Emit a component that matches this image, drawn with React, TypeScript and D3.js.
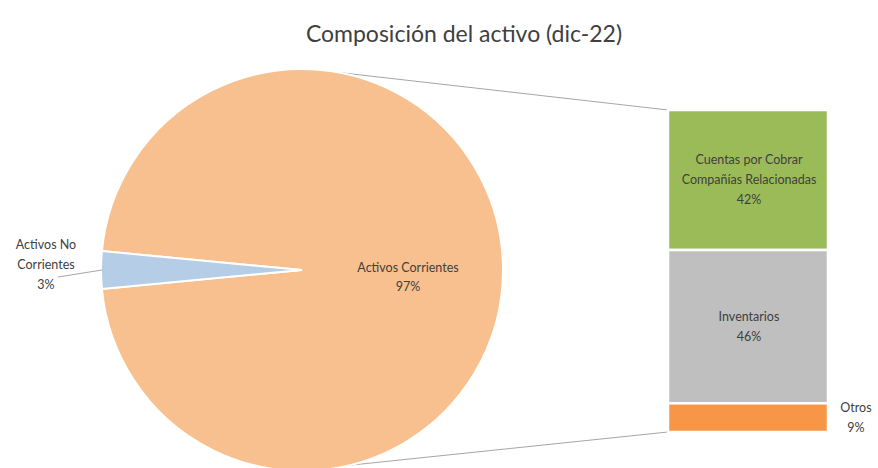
import { useEffect, useRef } from 'react';
import * as d3 from 'd3';

const W = 878, H = 468;
const TITLE = 'Composición del activo (dic-22)';
const PIE_LABELS = [['Activos Corrientes'], ['Activos No', 'Corrientes']];
const PIE_VALUES = [97, 3];
const PIE_COLORS = ['#f8c08e', '#b6cde8'];
const BAR_LABELS = [['Cuentas por Cobrar', 'Compañías Relacionadas'], ['Inventarios'], ['Otros']];
const BAR_VALUES = [42, 46, 8.6];
const BAR_PCT = ['42%', '46%', '9%'];
const BAR_COLORS = ['#9bbb59', '#bfbfbf', '#f79646'];

export default function App() {
  const ref = useRef<SVGSVGElement>(null);
  useEffect(() => {
    const svg = d3.select(ref.current); svg.selectAll('*').remove();
    const font = "Lato, 'Open Sans', sans-serif";
    svg.append('rect').attr('width', W).attr('height', H).attr('fill', '#fff');
    svg.append('text').attr('x', 464).attr('y', 42).attr('text-anchor', 'middle')
      .attr('font-family', font).attr('font-size', 23).attr('fill', '#404040').text(TITLE);

    const cx = 302, cy = 270, r = 201;
    const s = 1.5 * Math.PI - 2 * Math.PI * (PIE_VALUES[0] + PIE_VALUES[1] / 2) / d3.sum(PIE_VALUES);
    const pie = d3.pie<number>().sort(null).startAngle(s).endAngle(s + 2 * Math.PI);
    const arc = d3.arc<d3.PieArcDatum<number>>().innerRadius(0).outerRadius(r);
    const arcs = pie(PIE_VALUES);

    // connector lines from pie to bar
    const bx0 = 668, bx1 = 828, by0 = 110, by1 = 432;
    const pt = (a: number) => [cx + r * Math.sin(a), cy - r * Math.cos(a)];
    const [tx, ty] = pt(0.19), [bx, byy] = pt(Math.PI - 0.24);
    svg.append('line').attr('x1', tx).attr('y1', ty).attr('x2', bx0).attr('y2', by0)
      .attr('stroke', '#a6a6a6').attr('stroke-width', 1);
    svg.append('line').attr('x1', bx).attr('y1', byy).attr('x2', bx0).attr('y2', by1)
      .attr('stroke', '#a6a6a6').attr('stroke-width', 1);

    const g = svg.append('g').attr('transform', `translate(${cx},${cy})`);
    g.selectAll('path').data(arcs).join('path').attr('d', arc)
      .attr('fill', (d, i) => PIE_COLORS[i]).attr('stroke', '#fff').attr('stroke-width', 2);

    // pie labels
    const t1 = svg.append('text').attr('font-family', font).attr('font-size', 12.5).attr('fill', '#404040')
      .attr('text-anchor', 'middle');
    [...PIE_LABELS[0], PIE_VALUES[0] + '%'].forEach((l, i) =>
      t1.append('tspan').attr('x', 408).attr('y', 272 + i * 19).text(l));
    const t2 = svg.append('text').attr('font-family', font).attr('font-size', 12.5).attr('fill', '#404040')
      .attr('text-anchor', 'middle');
    [...PIE_LABELS[1], PIE_VALUES[1] + '%'].forEach((l, i) =>
      t2.append('tspan').attr('x', 46).attr('y', 249 + i * 20).text(l));
    svg.append('line').attr('x1', 58).attr('y1', 277).attr('x2', 102).attr('y2', 270)
      .attr('stroke', '#a6a6a6').attr('stroke-width', 1);

    // stacked bar
    const y = d3.scaleLinear().domain([0, d3.sum(BAR_VALUES)]).range([by0, by1]);
    let acc = 0;
    BAR_VALUES.forEach((v, i) => {
      const y0 = y(acc), y1 = y(acc + v); acc += v;
      svg.append('rect').attr('x', bx0).attr('y', y0).attr('width', bx1 - bx0).attr('height', y1 - y0)
        .attr('fill', BAR_COLORS[i]).attr('stroke', '#fff').attr('stroke-width', 2.5);
      const lines = [...BAR_LABELS[i], BAR_PCT[i]];
      const inside = i < 2;
      const lx = inside ? (bx0 + bx1) / 2 + 1 : 856;
      const mid = (y0 + y1) / 2;
      const lh = 20;
      const t = svg.append('text').attr('font-family', font).attr('font-size', 12.5).attr('fill', '#404040')
        .attr('text-anchor', 'middle');
      lines.forEach((l, j) => t.append('tspan').attr('x', lx)
        .attr('y', mid - (lines.length - 1) * lh / 2 + j * lh + 4).text(l));
    });
  }, []);
  return <svg ref={ref} width={W} height={H} style={{ position: 'absolute', left: 0, top: 0 }} />;
}
